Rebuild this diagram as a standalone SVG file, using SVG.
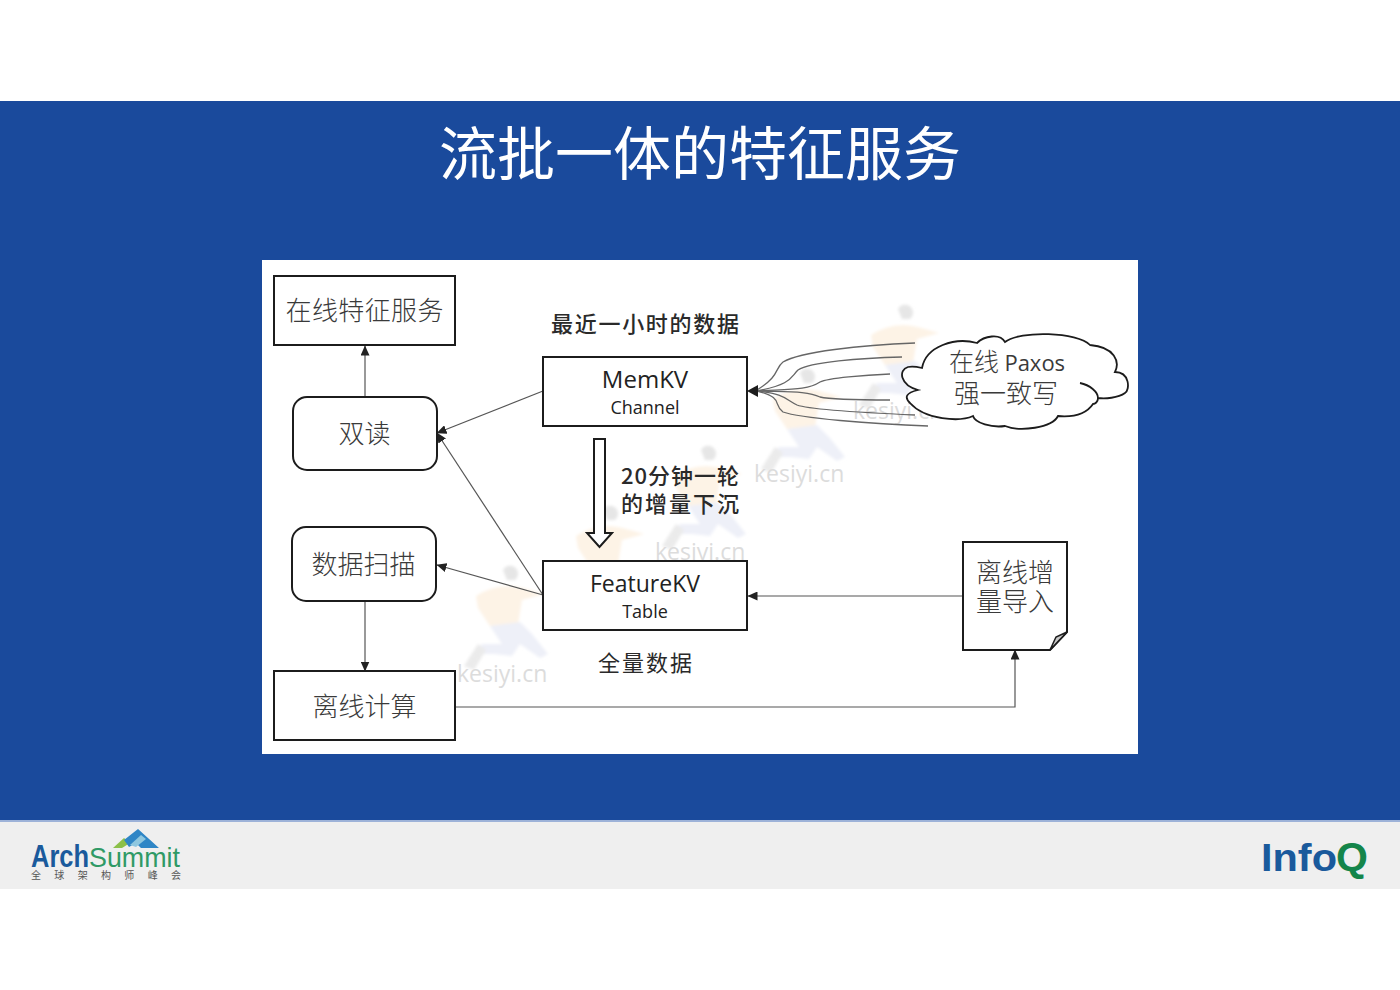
<svg xmlns="http://www.w3.org/2000/svg" width="1400" height="990" viewBox="0 0 1400 990">
<style>
.box{fill:#fff;stroke:#1c1c1c;stroke-width:2}
.cjk{font-family:"Noto Sans CJK SC","Noto Sans",sans-serif;font-size:26px;fill:#3a3a3a;text-anchor:middle;font-weight:300}
.bold{font-family:"Noto Sans CJK SC","Noto Sans",sans-serif;font-size:22px;fill:#2a2a2a;text-anchor:middle;font-weight:500}
.lat{font-family:"Open Sans","Noto Sans CJK SC",sans-serif;fill:#222;text-anchor:middle}
.wm{font-family:"Open Sans",sans-serif;font-size:23px;fill:#dcdcdc}
.con{fill:none;stroke:#555;stroke-width:1.2}
.fan{fill:none;stroke:#666;stroke-width:1.3}
</style>
<defs>
<marker id="ah" markerWidth="10" markerHeight="9" refX="9.500" refY="4.500" orient="auto" markerUnits="userSpaceOnUse"><path d="M0 0L10 4.500L0 9z" fill="#222"/></marker>
<filter id="soft" x="-20%" y="-20%" width="140%" height="140%"><feGaussianBlur stdDeviation="1.800"/></filter>
<g id="runner" filter="url(#soft)">
<path d="M-7 -2A8 8 0 1 1 5 8L-3 8Z" fill="#e6e6e6"/>
<path d="M-34 24Q-10 8 20 18L34 22L12 28L8 52L-20 54L-32 36Z" fill="#fdf3e6"/>
<path d="M-20 54L10 50L22 62L38 82L30 86L10 72L2 84L-16 82L-34 82L-28 72L-8 72Z" fill="#eef0f8"/>
<path d="M-32 72L-24 78L-36 98L-46 94Z" fill="#ebebeb"/>
</g>
</defs>
<rect width="1400" height="990" fill="#fff"/>
<rect y="101" width="1400" height="720" fill="#1a4a9c"/>
<rect y="820" width="1400" height="2" fill="#9db2d8"/>
<rect y="822" width="1400" height="67" fill="#efefef"/>
<text x="700" y="175" font-family="'Noto Sans CJK SC','Noto Sans',sans-serif" font-size="58" font-weight="400" fill="#fff" text-anchor="middle" textLength="522">流批一体的特征服务</text>
<rect x="262" y="260" width="876" height="494" fill="#fff"/>
<g id="watermarks">
<use href="#runner" x="905" y="311"/>
<use href="#runner" x="807" y="375"/>
<use href="#runner" x="708" y="452"/>
<use href="#runner" x="610" y="512"/>
<use href="#runner" x="510" y="572"/>
<text class="wm" x="853" y="419">kesiyi.cn</text>
<text class="wm" x="754" y="482">kesiyi.cn</text>
<text class="wm" x="655" y="560">kesiyi.cn</text>
<text class="wm" x="557" y="621">kesiyi.cn</text>
<text class="wm" x="457" y="682">kesiyi.cn</text>
</g>
<g id="connectors">
<path class="con" d="M365 396V346" marker-end="url(#ah)"/>
<path class="con" d="M543 391L437 433" marker-end="url(#ah)"/>
<path class="con" d="M543 595L437 433" marker-end="url(#ah)"/>
<path class="con" d="M543 595L437 565" marker-end="url(#ah)"/>
<path class="con" d="M365 601V671" marker-end="url(#ah)"/>
<path class="con" d="M962 596H748" marker-end="url(#ah)"/>
<path class="con" d="M455 707H1015V650" marker-end="url(#ah)"/>
<path d="M594 439H605V533H612L599.500 547L587 533H594Z" fill="#fff" stroke="#1c1c1c" stroke-width="2"/>
<g id="fan">
<path class="fan" d="M915 343C860 345 800 352 783 362C775 368 780 376 757 390L750 391"/>
<path class="fan" d="M902 357C860 358 810 362 798 370C790 378 792 384 757 391"/>
<path class="fan" d="M890 374C865 375 828 378 820 382C808 390 790 389 757 391"/>
<path class="fan" d="M890 400C865 400 828 399 820 397C808 391 790 392 757 391"/>
<path class="fan" d="M915 415C870 413 810 410 797 405C785 399 785 394 757 391"/>
<path class="fan" d="M928 426C870 424 800 418 783 412C772 404 785 398 757 391"/>
<path d="M747 391L758 385V397Z" fill="#1c1c1c"/>
</g>
</g>
<g id="online-service"><rect class="box" x="274" y="276" width="181" height="69"/><text class="cjk" x="364.500" y="320" textLength="158">在线特征服务</text></g>
<g id="dual-read"><rect class="box" x="293" y="397" width="144" height="73" rx="14"/><text class="cjk" x="364.500" y="443">双读</text></g>
<g id="scan"><rect class="box" x="292" y="527" width="144" height="74" rx="14"/><text class="cjk" x="363.500" y="574" textLength="104">数据扫描</text></g>
<g id="offline-compute"><rect class="box" x="274" y="671" width="181" height="69"/><text class="cjk" x="364.500" y="716" textLength="104">离线计算</text></g>
<g id="memkv"><rect class="box" x="543" y="357" width="204" height="69"/><text class="lat" x="645" y="388" font-size="24">MemKV</text><text class="lat" x="645" y="414" font-size="18">Channel</text></g>
<g id="featurekv"><rect class="box" x="543" y="561" width="204" height="69"/><text class="lat" x="645" y="592" font-size="23">FeatureKV</text><text class="lat" x="645" y="618" font-size="18">Table</text></g>
<g id="labels">
<text class="bold" x="645" y="332" textLength="188">最近一小时的数据</text>
<text class="bold" x="680" y="484" textLength="118">20分钟一轮</text>
<text class="bold" x="680" y="512" textLength="118">的增量下沉</text>
<text class="bold" x="645" y="671" textLength="94" style="font-weight:400">全量数据</text>
</g>
<g id="cloud">
<path d="M922 368C926 346 955 337 977 343C984 336 1000 333 1005 342C1020 330 1078 332 1090 345C1115 347 1120 362 1115 372C1130 372 1130 390 1125 393C1118 398 1105 399 1098 398C1098 392 1090 385 1080 383C1090 385 1098 392 1098 398C1098 402 1095 404 1093 404C1085 416 1070 417 1058 416C1052 428 1020 432 1005 426C992 428 975 423 973 416C960 422 925 420 910 403C904 397 906 393 918 390C900 385 898 370 908 367C912 366 918 367 922 368Z" fill="#fff" stroke="#1c1c1c" stroke-width="1.800"/>
<text x="1007" y="371" text-anchor="middle" font-size="25" fill="#3a3a3a" font-weight="300" font-family="'Noto Sans CJK SC',sans-serif">在线 <tspan font-family="'Open Sans',sans-serif" font-size="22" font-weight="400">Paxos</tspan></text>
<text class="cjk" x="1006" y="403" style="font-size:26px">强一致写</text>
</g>
<g id="offline-import">
<path d="M963 542H1067V632L1050 650H963Z" fill="#fff" stroke="#1c1c1c" stroke-width="2"/>
<path d="M1050 650L1056 637L1067 632Z" fill="#c9c9c9" stroke="#1c1c1c" stroke-width="1.500"/>
<text class="cjk" x="1015" y="582">离线增</text>
<text class="cjk" x="1015" y="611">量导入</text>
</g>
<g id="archsummit-logo">
<path d="M113 848L124 838L130 843L122 848Z" fill="#8cc04a"/>
<path d="M124 840L138 829L159 848H141L136 843L129 847Z" fill="#2f86c6"/>
<path d="M130 845L141 835L146 839L136 847Z" fill="#8fc7df"/>
<text x="31" y="867" font-family="'Liberation Sans',sans-serif" font-size="31" font-weight="700" fill="#1a5a9c" textLength="58" lengthAdjust="spacingAndGlyphs">Arch</text>
<text x="89" y="867" font-family="'Liberation Sans',sans-serif" font-size="28" fill="#2f9a66" textLength="91" lengthAdjust="spacingAndGlyphs">Summit</text>
<text x="31" y="879" font-family="'Noto Sans CJK SC',sans-serif" font-size="10" fill="#555" textLength="150">全球架构师峰会</text>
</g>
<g id="infoq-logo">
<text x="1261" y="871" font-family="'Liberation Sans',sans-serif" font-size="39" font-weight="700" fill="#1a5a9c" textLength="76" lengthAdjust="spacingAndGlyphs">Info</text>
<text x="1336" y="871" font-family="'Liberation Sans',sans-serif" font-size="41" font-weight="700" fill="#14854a">Q</text>
</g>
</svg>
